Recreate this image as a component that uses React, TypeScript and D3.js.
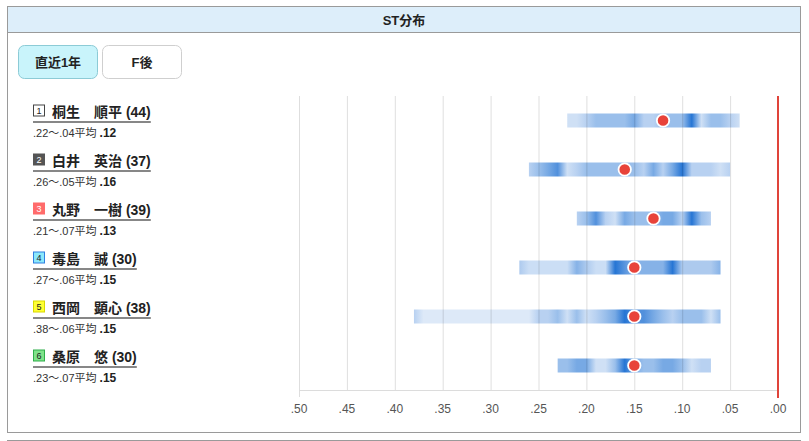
import { useEffect, useRef } from 'react';
import * as d3 from 'd3';

// racer rows (lane order)
const lanes = [1, 2, 3, 4, 5, 6];
const names = ['桐生　順平', '白井　英治', '丸野　一樹', '毒島　誠', '西岡　顕心', '桑原　悠'];
const ages = [44, 37, 39, 30, 38, 30];
const stSlow = [0.22, 0.26, 0.21, 0.27, 0.38, 0.23];
const stFast = [0.04, 0.05, 0.07, 0.06, 0.06, 0.07];
const stAvg = [0.12, 0.16, 0.13, 0.15, 0.15, 0.15];

// density per 0.01 step, from slowest ST to fastest ST
const density1 = [1, 1, 2, 3, 3, 3, 3, 4, 2, 2, 3, 3, 3, 6, 1, 3, 3, 2, 1];
const density2 = [2, 3, 4, 5, 1, 2, 3, 3, 3, 3, 3, 3, 2, 4, 2, 4, 6, 2, 2, 2, 1, 2];
const density3 = [2, 3, 5, 2, 1, 4, 3, 3, 3, 4, 4, 2, 6, 3, 2];
const density4 = [2, 1, 1, 1, 1, 1, 3, 2, 1, 1, 5, 4, 3, 3, 3, 3, 5, 2, 2, 2, 2, 3];
const density5 = [2, 0, 0, 0, 0, 0, 0, 0, 0, 0, 0, 0, 0, 2, 2, 3, 1, 3, 1, 2, 3, 4, 6, 5, 5, 4, 3, 2, 3, 3, 3, 1, 3];
const density6 = [3, 3, 4, 4, 1, 1, 3, 6, 4, 3, 3, 4, 4, 3, 1, 2, 2];
const densities = [density1, density2, density3, density4, density5, density6];

const xTicks = [0.5, 0.45, 0.4, 0.35, 0.3, 0.25, 0.2, 0.15, 0.1, 0.05, 0];

const laneFill = ['#ffffff', '#555555', '#ff6b6b', '#8be8fb', '#ffff33', '#7fe38a'];
const laneStroke = ['#444444', '#555555', '#ff6b6b', '#2f7fe0', '#d8d800', '#2fae4a'];
const laneText = ['#222', '#fff', '#fff', '#222', '#222', '#222'];

const FONT = '"Liberation Sans", Arial, "Noto Sans CJK JP", sans-serif';
const fmt = (v: number) => v.toFixed(2).replace(/^0/, '');

export default function App() {
  const svgRef = useRef<SVGSVGElement>(null);

  useEffect(() => {
    if (!svgRef.current) return;
    const svg = d3.select(svgRef.current);
    svg.selectAll('*').remove();

    // panel
    svg.append('rect').attr('x', 7.5).attr('y', 6.5).attr('width', 793).attr('height', 426)
      .attr('fill', '#fff').attr('stroke', '#9a9a9a');
    svg.append('rect').attr('x', 8).attr('y', 7).attr('width', 792).attr('height', 25).attr('fill', '#ddeefa');
    svg.append('line').attr('x1', 7.5).attr('x2', 800.5).attr('y1', 32.5).attr('y2', 32.5).attr('stroke', '#9a9a9a');
    svg.append('text').attr('x', 404).attr('y', 24.5).attr('text-anchor', 'middle')
      .attr('font-size', 13).attr('font-weight', 'bold').attr('fill', '#222').text('ST分布');
    svg.append('line').attr('x1', 7).attr('x2', 801).attr('y1', 440.5).attr('y2', 440.5).attr('stroke', '#9a9a9a');

    // buttons
    const buttons = [
      { label: '直近1年', x: 18.5, fill: '#c9f4fb', stroke: '#8ccbd6' },
      { label: 'F後', x: 102.5, fill: '#ffffff', stroke: '#cfcfcf' },
    ];
    buttons.forEach((b) => {
      svg.append('rect').attr('x', b.x).attr('y', 45.5).attr('width', 79).attr('height', 33).attr('rx', 6)
        .attr('fill', b.fill).attr('stroke', b.stroke);
      svg.append('text').attr('x', b.x + 39.5).attr('y', 66.5).attr('text-anchor', 'middle')
        .attr('font-size', 13).attr('font-weight', 'bold').attr('fill', '#222').text(b.label);
    });

    const x = d3.scaleLinear().domain([0.5, 0]).range([299, 778]);
    const y = d3.scaleBand<number>().domain(lanes).range([96, 390]);
    const ramp = d3.interpolateRgb('#dde9f8', '#2675d4');
    const color = (t: number) => ramp(Math.pow(t, 1.45));
    const barH = 14;

    // density bars
    const defs = svg.append('defs');
    lanes.forEach((lane, i) => {
      const dens = densities[i];
      const maxD = d3.max(dens) ?? 1;
      const x1 = x(stSlow[i]);
      const x2 = x(stFast[i]);
      const grad = defs.append('linearGradient').attr('id', `st-grad-${lane}`)
        .attr('gradientUnits', 'userSpaceOnUse').attr('x1', x1).attr('x2', x2).attr('y1', 0).attr('y2', 0);
      dens.forEach((d, k) => {
        const st = stSlow[i] - k * 0.01;
        grad.append('stop').attr('offset', (x(st) - x1) / (x2 - x1)).attr('stop-color', color(d / maxD));
      });
      const cy = (y(lane) ?? 0) + y.bandwidth() / 2;
      svg.append('rect').attr('x', x1).attr('y', cy - barH / 2).attr('width', x2 - x1).attr('height', barH)
        .attr('fill', `url(#st-grad-${lane})`);
    });

    // grid (drawn over the bars, faint)
    svg.append('g').selectAll('line').data(xTicks).enter().append('line')
      .attr('x1', (d) => x(d) + 0.5).attr('x2', (d) => x(d) + 0.5)
      .attr('y1', 96).attr('y2', (d) => (d === 0.5 ? 397 : 390))
      .attr('stroke', 'rgba(0,0,0,0.13)');
    svg.append('line').attr('x1', 299).attr('x2', 778).attr('y1', 390.5).attr('y2', 390.5).attr('stroke', '#dcdcdc');
    svg.append('g').selectAll('text').data(xTicks).enter().append('text')
      .attr('x', (d) => x(d)).attr('y', 413).attr('text-anchor', 'middle')
      .attr('font-size', 12).attr('fill', '#555').text((d) => fmt(d));

    // averages
    lanes.forEach((lane, i) => {
      const cy = (y(lane) ?? 0) + y.bandwidth() / 2;
      svg.append('circle').attr('cx', x(stAvg[i])).attr('cy', cy).attr('r', 6.2)
        .attr('fill', '#e8433a').attr('stroke', '#fff').attr('stroke-width', 1.8);
    });

    // zero line
    svg.append('line').attr('x1', x(0)).attr('x2', x(0)).attr('y1', 96).attr('y2', 398)
      .attr('stroke', '#e0443a').attr('stroke-width', 2);

    // left labels
    lanes.forEach((lane, i) => {
      const cy = (y(lane) ?? 0) + y.bandwidth() / 2;
      const g = svg.append('g');
      g.append('rect').attr('x', 33.5).attr('y', cy - 15.5).attr('width', 11).attr('height', 11)
        .attr('fill', laneFill[i]).attr('stroke', laneStroke[i]);
      g.append('text').attr('x', 39).attr('y', cy - 6.8).attr('text-anchor', 'middle')
        .attr('font-size', 9).attr('fill', laneText[i]).text(lane);
      const name = g.append('text').attr('x', 52).attr('y', cy - 4)
        .attr('font-size', 14).attr('font-weight', 'bold').attr('fill', '#222')
        .text(`${names[i]} (${ages[i]})`);
      const nameEnd = 52 + (name.node()?.getComputedTextLength() ?? 100);
      g.append('line').attr('x1', 33).attr('x2', nameEnd).attr('y1', cy + 1.5).attr('y2', cy + 1.5)
        .attr('stroke', '#111').attr('stroke-width', 1.2);
      const sub = g.append('text').attr('x', 33).attr('y', cy + 16).attr('fill', '#333');
      sub.append('tspan').attr('font-size', 11).text(`${fmt(stSlow[i])}〜${fmt(stFast[i])}平均`);
      sub.append('tspan').attr('dx', 3).attr('font-size', 12).attr('font-weight', 'bold').attr('fill', '#222')
        .text(fmt(stAvg[i]));
    });
  }, []);

  return (
    <svg ref={svgRef} width={809} height={441}
      style={{ position: 'absolute', left: 0, top: 0, display: 'block', fontFamily: FONT }} />
  );
}
